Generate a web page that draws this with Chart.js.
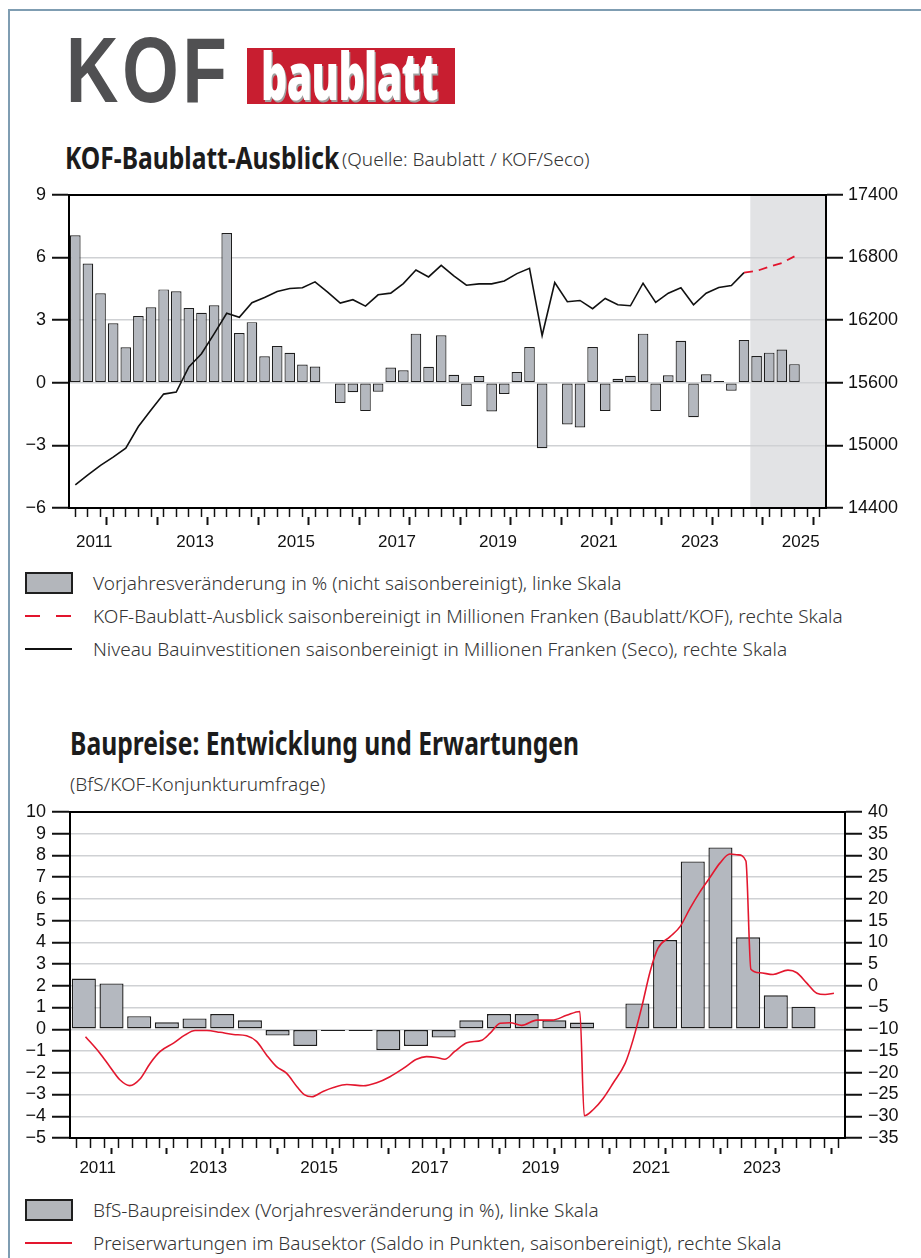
<!DOCTYPE html>
<html lang="de">
<head>
<meta charset="utf-8">
<script src="https://cdn.jsdelivr.net/npm/chart.js@4.4.1/dist/chart.umd.min.js"></script>
<style>
  html, body { margin: 0; padding: 0; background: #fff; }
  body { width: 921px; height: 1258px; position: relative; overflow: hidden; font-family: 'Noto Sans', sans-serif; }
  .frame { position: absolute; left: 8px; top: 9px; width: 930px; height: 1270px; border-top: 2px solid #7f9db2; border-left: 2px solid #7f9db2; }
  .kof { position: absolute; left: 66px; top: 24px; font-family: 'Liberation Sans', Arial, sans-serif; font-weight: bold; font-size: 93px; line-height: 1; color: #505052; transform: scaleX(0.78); transform-origin: left top; letter-spacing: 5px; }
  .bb { position: absolute; left: 247px; top: 48px; width: 208px; height: 56px; background: #c81e30; overflow: hidden; }
  .bb span { position: absolute; left: 14px; top: -5px; font-family: 'Noto Sans', sans-serif; font-weight: 900; font-size: 65px; line-height: 1; color: #fff; text-shadow: 2px 2px 0 #a0a0a0; transform: scaleX(0.63); transform-origin: left top; letter-spacing: -1px; }
  .title { position: absolute; white-space: nowrap; color: #1c1c1c; font-weight: 700; transform-origin: left top; }
  .sub { position: absolute; white-space: nowrap; font-weight: 300; color: #333; }
  .legend { position: absolute; left: 25px; }
  .legend div { position: relative; height: 33px; }
  .legend .txt { position: absolute; left: 68px; top: 50%; transform: translateY(-50%); white-space: nowrap; font-size: 19px; font-weight: 300; color: #333; }
  .sw-bar { position: absolute; left: 0; top: 6px; width: 44px; height: 18px; background: #b3b6bb; border: 2px solid #1f1f1f; box-sizing: content-box; }
  .sw-line { position: absolute; left: 0; top: 16px; width: 47px; height: 1.5px; background: #111; }
  .sw-dash { position: absolute; left: 0; top: 16px; width: 47px; height: 2px; background: linear-gradient(to right, #e2142d 0 15px, transparent 15px 31px, #e2142d 31px 46px, transparent 46px); }
  .sw-red { position: absolute; left: 0; top: 16px; width: 47px; height: 2px; background: #e3172e; }
  canvas { position: absolute; left: 0; }
</style>
</head>
<body>
<div class="frame"></div>
<div class="kof">KOF</div>
<div class="bb"><span>baublatt</span></div>
<div class="title" style="left:65px; top:137px; font-size:30px; transform:scaleX(0.82);">KOF-Baublatt-Ausblick</div>
<div class="sub" style="left:342px; top:146px; font-size:19px;">(Quelle: Baublatt / KOF/Seco)</div>
<canvas id="kofChart" width="921" height="380" style="top:178px"></canvas>
<div class="legend" style="top:566px">
  <div><span class="sw-bar"></span><span class="txt">Vorjahresveränderung in % (nicht saisonbereinigt), linke Skala</span></div>
  <div><span class="sw-dash"></span><span class="txt">KOF-Baublatt-Ausblick saisonbereinigt in Millionen Franken (Baublatt/KOF), rechte Skala</span></div>
  <div><span class="sw-line"></span><span class="txt">Niveau Bauinvestitionen saisonbereinigt in Millionen Franken (Seco), rechte Skala</span></div>
</div>
<div class="title" style="left:70px; top:720px; font-size:33px; transform:scaleX(0.747);">Baupreise: Entwicklung und Erwartungen</div>
<div class="sub" style="left:70px; top:771px; font-size:19px;">(BfS/KOF-Konjunkturumfrage)</div>
<canvas id="preisChart" width="921" height="395" style="top:795px"></canvas>
<div class="legend" style="top:1193px">
  <div><span class="sw-bar"></span><span class="txt">BfS-Baupreisindex (Vorjahresveränderung in %), linke Skala</span></div>
  <div><span class="sw-red"></span><span class="txt">Preiserwartungen im Bausektor (Saldo in Punkten, saisonbereinigt), rechte Skala</span></div>
</div>
<script>
// --- KOF-Baublatt-Ausblick (quarterly, from 2011 Q1) ---
const kofFrom = 2011;
const kofTo = 2026;
const forecastFrom = 2024.5;
// Vorjahresveränderung in %, linke Skala
const vorjahr = [7.06, 5.71, 4.28, 2.85, 1.70, 3.19, 3.61, 4.47, 4.38, 3.58, 3.35, 3.71,
  7.17, 2.38, 2.90, 1.27, 1.76, 1.43, 0.87, 0.78, 0.03, -0.97, -0.46, -1.36,
  -0.43, 0.73, 0.60, 2.35, 0.76, 2.27, 0.38, -1.11, 0.32, -1.38, -0.54, 0.51,
  1.71, -3.14, -0.03, -2.00, -2.14, 1.71, -1.35, 0.19, 0.33, 2.35, -1.36, 0.36,
  2.01, -1.65, 0.40, 0.08, -0.38, 2.05, 1.28, 1.44, 1.59, 0.89];
// Niveau Bauinvestitionen (Mio. Fr.), rechte Skala
const niveau = [14622, 14717, 14809, 14888, 14974, 15180, 15339, 15491, 15510, 15751,
  15878, 16068, 16265, 16227, 16366, 16417, 16474, 16502, 16509, 16566,
  16467, 16363, 16395, 16334, 16442, 16458, 16550, 16680, 16613, 16724,
  16623, 16534, 16547, 16547, 16575, 16645, 16696, 16052, 16560, 16376,
  16388, 16309, 16407, 16347, 16337, 16553, 16369, 16458, 16509, 16347,
  16458, 16512, 16531, 16655];
// KOF-Baublatt-Ausblick, starts at the last Seco quarter
const ausblickStart = 53;
const ausblick = [16655, 16670, 16712, 16747, 16810];

// --- Baupreise (half-yearly bars, from 2011 H1) ---
const preisFrom = 2011;
const preisTo = 2025;
const baupreis = [2.33, 2.11, 0.60, 0.32, 0.50, 0.70, 0.41, -0.29, -0.77, -0.08,
  -0.08, -0.96, -0.77, -0.38, 0.41, 0.70, 0.70, 0.41, 0.31, 0.03,
  1.19, 4.10, 7.72, 8.36, 4.23, 1.56, 1.04];
// Preiserwartungen (Saldo)
const erwX = [2011.28, 2011.54, 2011.72, 2011.90, 2012.08, 2012.26, 2012.45, 2012.63, 2012.87, 2013.08,
  2013.26, 2013.47, 2013.71, 2013.95, 2014.19, 2014.37, 2014.55, 2014.73, 2014.91, 2015.10,
  2015.24, 2015.37, 2015.57, 2015.76, 2016.00, 2016.30, 2016.54, 2016.78, 2017.02, 2017.26,
  2017.44, 2017.62, 2017.77, 2017.95, 2018.17, 2018.44, 2018.59, 2018.77, 2018.95, 2019.16,
  2019.43, 2019.71, 2019.97, 2020.21, 2020.29, 2020.45, 2020.63, 2020.81, 2021.03, 2021.17,
  2021.33, 2021.48, 2021.62, 2021.84, 2022.02, 2022.20, 2022.38, 2022.56, 2022.74, 2022.92,
  2023.07, 2023.21, 2023.30, 2023.46, 2023.70, 2023.97, 2024.13, 2024.31, 2024.49, 2024.64,
  2024.80];
const erwY = [-11.7, -15.5, -18.6, -21.6, -22.95, -21.5, -17.8, -15.1, -13.2, -11.3,
  -10.3, -10.3, -10.7, -11.2, -11.5, -12.8, -15.9, -18.6, -20.1, -23.2,
  -25.1, -25.5, -24.3, -23.4, -22.7, -23.0, -22.3, -20.9, -19.0, -16.9,
  -16.3, -16.5, -16.9, -15.1, -13.1, -12.5, -10.9, -8.6, -8.5, -9.1,
  -7.9, -7.9, -6.8, -5.9, -29.9, -28.5, -25.9, -22.4, -17.8, -12.5,
  -4.8, 3.3, 8.6, 11.3, 13.6, 17.8, 21.6, 24.9, 28.2, 30.3,
  30.1, 28.7, 3.8, 3.0, 2.6, 3.6, 3.0, 0.6, -1.7, -2.0,
  -1.7];

const tickFont = { family: "'Liberation Sans', Arial, sans-serif", size: 18 };
const yearFont = { family: "'Liberation Sans', Arial, sans-serif", size: 17 };
const gridGrey = '#cfd1d4';
const barFill = '#b4b8bf';

function stepTicks(from, to, step) {
  const t = [];
  for (let v = from; v <= to + 1e-9; v += step) t.push({ value: Math.round(v * 100) / 100 });
  return t;
}
const minus = v => String(v).replace('-', '\u2212');

// bottom axes: quarter ticks, year ticks + labels centred in odd years, frame on top
function timeAxes(from, to, minorLen, majorLen, labelPad, x2Height) {
  return {
    x: {
      type: 'linear', position: 'bottom', weight: 1, min: from, max: to, offset: false,
      afterBuildTicks: s => { s.ticks = stepTicks(from, to, 0.25); },
      ticks: { display: false },
      grid: { drawOnChartArea: false, tickLength: minorLen, tickColor: '#111', tickWidth: 1.5 },
      border: { color: '#000', width: 2 }
    },
    x2: {
      type: 'linear', position: 'bottom', weight: 2, min: from, max: to, offset: false,
      afterBuildTicks: s => { s.ticks = stepTicks(from, to, 0.5); },
      afterFit: s => { s.height = x2Height; },
      ticks: {
        autoSkip: false, maxRotation: 0, padding: labelPad, color: '#111', font: yearFont,
        callback: v => (v % 1 === 0.5 && Math.floor(v) % 2 === 1) ? String(Math.floor(v)) : ''
      },
      grid: {
        drawOnChartArea: false, tickLength: majorLen, tickWidth: 2,
        tickColor: c => (c.tick && c.tick.value % 1 === 0) ? '#111' : 'rgba(0,0,0,0)'
      },
      border: { display: false }
    },
    xTop: {
      type: 'linear', position: 'top', min: from, max: to,
      ticks: { display: false },
      grid: { drawOnChartArea: false, drawTicks: false },
      border: { color: '#000', width: 2 }
    }
  };
}

function valueAxis(pos, min, max, step, width, tickLen, pad, onArea) {
  return {
    type: 'linear', position: pos, min: min, max: max,
    afterFit: s => { s.width = width; },
    ticks: { stepSize: step, autoSkip: false, padding: pad, color: '#111', font: tickFont, callback: minus },
    grid: {
      drawOnChartArea: onArea, lineWidth: 1.5, tickLength: tickLen, tickWidth: 2, tickColor: '#111',
      color: c => (c.tick && (c.tick.value === min || c.tick.value === max)) ? 'rgba(0,0,0,0)' : gridGrey
    },
    border: { color: '#000', width: 2 }
  };
}

const forecastShade = {
  id: 'forecastShade',
  beforeDraw(chart, args, opts) {
    const { ctx, chartArea, scales } = chart;
    const x0 = scales.x.getPixelForValue(opts.from);
    ctx.save();
    ctx.fillStyle = opts.color;
    ctx.fillRect(x0, chartArea.top, chartArea.right - x0, chartArea.bottom - chartArea.top);
    ctx.restore();
  }
};

const quarterX = i => kofFrom + (i + 0.5) / 4;
const halfX = i => preisFrom + (i + 0.5) / 2;

new Chart(document.getElementById('kofChart'), {
  type: 'bar',
  data: {
    datasets: [
      {
        type: 'line', label: 'Niveau Bauinvestitionen', yAxisID: 'y1', xAxisID: 'x', order: 1,
        data: niveau.map((v, i) => ({ x: quarterX(i), y: v })),
        borderColor: '#111', borderWidth: 1.6, pointRadius: 0, tension: 0
      },
      {
        type: 'line', label: 'KOF-Baublatt-Ausblick', yAxisID: 'y1', xAxisID: 'x', order: 0,
        data: ausblick.map((v, i) => ({ x: quarterX(ausblickStart + i), y: v })),
        borderColor: '#e2142d', borderWidth: 1.8, borderDash: [9, 6], pointRadius: 0, tension: 0
      },
      {
        type: 'bar', label: 'Vorjahresveränderung', yAxisID: 'y', xAxisID: 'x', order: 2,
        data: vorjahr.map((v, i) => ({ x: quarterX(i), y: v })),
        backgroundColor: barFill, borderColor: '#1e1e1e', borderWidth: 1.2, borderSkipped: false,
        barPercentage: 0.84, categoryPercentage: 1
      }
    ]
  },
  options: {
    responsive: false, animation: false, devicePixelRatio: 1,
    layout: { padding: { top: 15, left: 0, right: 0, bottom: 0 } },
    plugins: { legend: { display: false }, tooltip: { enabled: false }, forecastShade: { from: forecastFrom, color: '#e2e3e5' } },
    scales: Object.assign(timeAxes(kofFrom, kofTo, 9, 8, 7, 41), {
      y: valueAxis('left', -6, 9, 3, 69, 17, 6, true),
      y1: valueAxis('right', 14400, 17400, 600, 95, 17, 5, false)
    })
  },
  plugins: [forecastShade]
});

new Chart(document.getElementById('preisChart'), {
  type: 'bar',
  data: {
    datasets: [
      {
        type: 'line', label: 'Preiserwartungen', yAxisID: 'y1', xAxisID: 'x', order: 1,
        data: erwX.map((x, i) => ({ x: x, y: erwY[i] })),
        borderColor: '#e3172e', borderWidth: 1.6, pointRadius: 0, cubicInterpolationMode: 'monotone'
      },
      {
        // bar width is taken from the quarter tick spacing, so a half-year bar needs ~2x
        type: 'bar', label: 'BfS-Baupreisindex', yAxisID: 'y', xAxisID: 'x', order: 2,
        data: baupreis.map((v, i) => ({ x: halfX(i), y: v })),
        backgroundColor: barFill, borderColor: '#1e1e1e', borderWidth: 1.4, borderSkipped: false,
        barPercentage: 1.74, categoryPercentage: 1
      }
    ]
  },
  options: {
    responsive: false, animation: false, devicePixelRatio: 1,
    layout: { padding: { top: 16, left: 0, right: 0, bottom: 0 } },
    plugins: { legend: { display: false }, tooltip: { enabled: false } },
    scales: Object.assign(timeAxes(preisFrom, preisTo, 10, 6, 4, 42), {
      y: valueAxis('left', -5, 10, 1, 70, 18, 6, true),
      y1: valueAxis('right', -35, 40, 5, 76, 17, 6, false)
    })
  }
});
</script>
</body>
</html>
